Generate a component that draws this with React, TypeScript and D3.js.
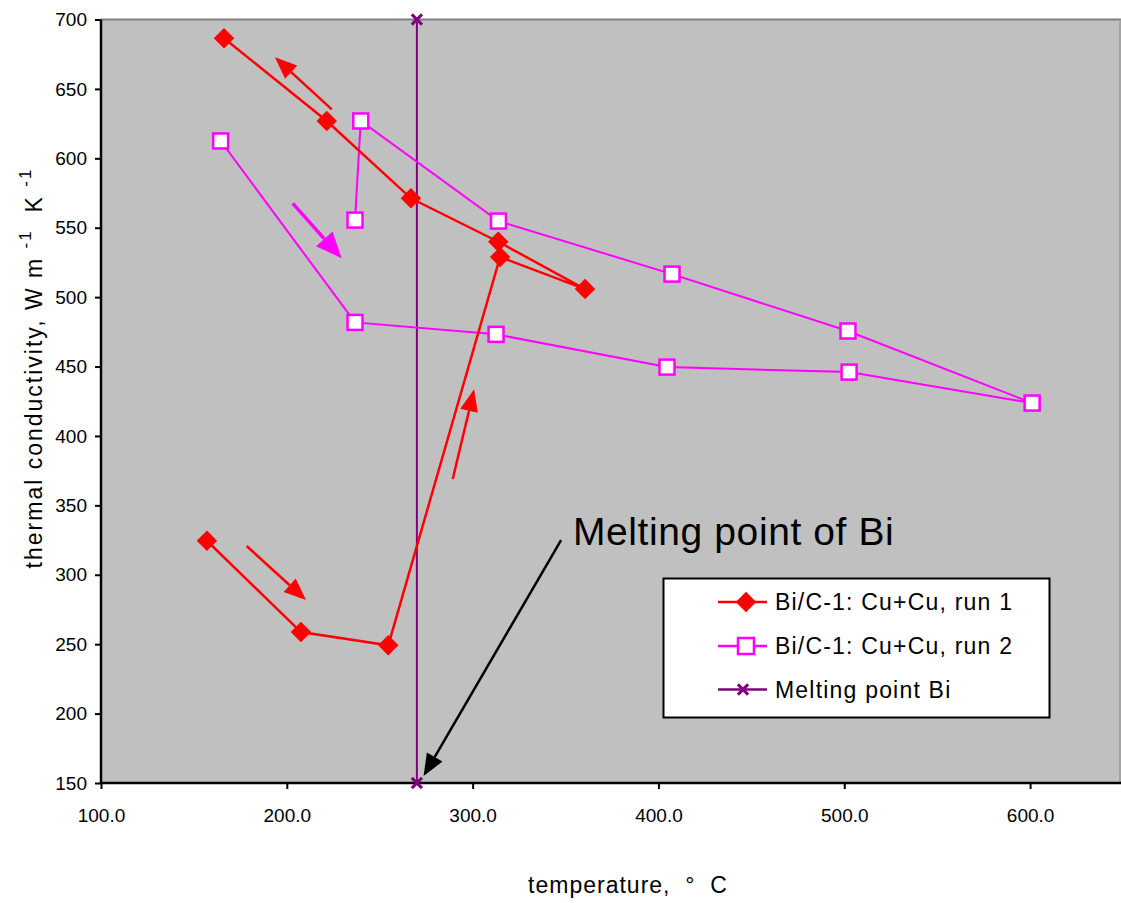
import { useEffect, useRef } from "react";
import * as d3 from "d3";

// run 1 (heating then cooling)
const run1Temp = [157.0, 207.6, 254.6, 314.8, 360.5, 313.8, 266.8, 221.5, 166.2];
const run1K = [324.5, 258.7, 249.2, 528.9, 505.8, 539.9, 571.2, 626.9, 686.5];

// run 2
const run2Temp = [164.4, 236.7, 312.6, 404.6, 502.6, 601.1, 502.0, 407.3, 313.9, 239.8, 236.7];
const run2K = [612.5, 481.8, 473.2, 449.6, 446.0, 423.7, 475.6, 516.6, 554.8, 626.9, 555.5];

// melting point of Bi
const meltTemp = [270, 270];
const meltK = [150, 700];

const xTicks = [100, 200, 300, 400, 500, 600];
const yTicks = [150, 200, 250, 300, 350, 400, 450, 500, 550, 600, 650, 700];

const legendLabels = ["Bi/C-1: Cu+Cu, run 1", "Bi/C-1: Cu+Cu, run 2", "Melting point Bi"];

// direction arrows drawn on the chart: tail and tip in data units
const arrowTails = [
  [224.2, 635.3],
  [203.2, 567.6],
  [178.4, 320.7],
  [289.3, 369.0],
  [347.6, 325.0],
];
const arrowTips = [
  [193.6, 672.8],
  [229.5, 528.0],
  [210.3, 281.8],
  [300.8, 433.6],
  [273.6, 155.0],
];
const arrowColors = ["#ff0000", "#ff00ff", "#ff0000", "#ff0000", "#000000"];

const FONT = "'Liberation Sans', Arial, sans-serif";

export default function App() {
  const svgRef = useRef<SVGSVGElement | null>(null);

  useEffect(() => {
    document.body.style.margin = "0";
    const width = 1121;
    const height = 903;
    const left = 101, right = 1123, top = 19.5, bottom = 783;

    const svg = d3.select(svgRef.current)
      .attr("width", width)
      .attr("height", height)
      .style("background", "#ffffff")
      .style("display", "block");
    svg.selectAll("*").remove();

    const x = d3.scaleLinear().domain([100, 650]).range([left, right]);
    const y = d3.scaleLinear().domain([150, 700]).range([bottom, top]);

    // plot area
    svg.append("rect")
      .attr("x", left).attr("y", top)
      .attr("width", right - left).attr("height", bottom - top)
      .attr("fill", "#c0c0c0");
    svg.append("line")
      .attr("x1", left).attr("x2", right).attr("y1", top).attr("y2", top)
      .attr("stroke", "#808080").attr("stroke-width", 2);
    svg.append("line")
      .attr("x1", 1120).attr("x2", 1120).attr("y1", top).attr("y2", bottom)
      .attr("stroke", "#9a9a9a").attr("stroke-width", 1.5);

    // axes
    const xAxis = svg.append("g")
      .attr("transform", `translate(0,${bottom})`)
      .call(d3.axisBottom(x).tickValues(xTicks).tickSize(6).tickPadding(20).tickFormat(d3.format(".1f")));
    const yAxis = svg.append("g")
      .attr("transform", `translate(${left},0)`)
      .call(d3.axisLeft(y).tickValues(yTicks).tickSize(6).tickPadding(8).tickFormat(d3.format("d")));
    [xAxis, yAxis].forEach((g) => {
      g.select(".domain").attr("stroke", "#000").attr("stroke-width", 2.5);
      g.selectAll(".tick line").attr("stroke", "#000").attr("stroke-width", 2);
      g.selectAll(".tick text").attr("font-family", FONT).attr("font-size", 19).attr("fill", "#000");
    });
    xAxis.select(".domain").attr("d", `M${left},0H${right}`);
    yAxis.select(".domain").attr("d", `M0,${top}V${bottom}`);

    // axis titles
    svg.append("text")
      .attr("x", 628).attr("y", 893)
      .attr("text-anchor", "middle")
      .attr("font-family", FONT).attr("font-size", 23)
      .attr("letter-spacing", 1)
      .style("white-space", "pre")
      .text("temperature,  \u00b0  C");
    const yl = svg.append("text")
      .attr("transform", "translate(42,368) rotate(-90)")
      .attr("text-anchor", "middle")
      .attr("font-family", FONT).attr("font-size", 23)
      .attr("letter-spacing", 2)
      .style("white-space", "pre");
    yl.append("tspan").text("thermal conductivity, W m ");
    yl.append("tspan").attr("dy", -11).attr("font-size", 17).text("-1");
    yl.append("tspan").attr("dy", 11).text("  K ");
    yl.append("tspan").attr("dy", -11).attr("font-size", 17).text("-1");

    // melting point line
    const meltPts = meltTemp.map((t, i) => [t, meltK[i]] as [number, number]);
    const line = d3.line<[number, number]>().x((d) => x(d[0])).y((d) => y(d[1]));
    svg.append("path").datum(meltPts)
      .attr("d", line).attr("fill", "none")
      .attr("stroke", "#800080").attr("stroke-width", 2);
    const xSym = d3.symbol(d3.symbolX, 70);
    svg.selectAll(".meltMark").data(meltPts).join("path")
      .attr("transform", (d) => `translate(${x(d[0])},${y(d[1])})`)
      .attr("d", xSym()).attr("fill", "none")
      .attr("stroke", "#800080").attr("stroke-width", 3);

    // run 2
    const run2Pts = run2Temp.map((t, i) => [t, run2K[i]] as [number, number]);
    svg.append("path").datum(run2Pts)
      .attr("d", line).attr("fill", "none")
      .attr("stroke", "#ff00ff").attr("stroke-width", 2);
    svg.selectAll(".r2").data(run2Pts).join("rect")
      .attr("x", (d) => x(d[0]) - 7.5).attr("y", (d) => y(d[1]) - 7.5)
      .attr("width", 15).attr("height", 15)
      .attr("fill", "#ffffff").attr("stroke", "#ff00ff").attr("stroke-width", 2.5);

    // run 1
    const run1Pts = run1Temp.map((t, i) => [t, run1K[i]] as [number, number]);
    svg.append("path").datum(run1Pts)
      .attr("d", line).attr("fill", "none")
      .attr("stroke", "#ff0000").attr("stroke-width", 2.5);
    const diamond = d3.symbol(d3.symbolSquare, 210);
    svg.selectAll(".r1").data(run1Pts).join("path")
      .attr("transform", (d) => `translate(${x(d[0])},${y(d[1])}) rotate(45)`)
      .attr("d", diamond()).attr("fill", "#ff0000");

    // arrows
    arrowTails.forEach((tail, i) => {
      const x1 = x(tail[0]), y1 = y(tail[1]);
      const x2 = x(arrowTips[i][0]), y2 = y(arrowTips[i][1]);
      const len = Math.hypot(x2 - x1, y2 - y1);
      const ux = (x2 - x1) / len, uy = (y2 - y1) / len;
      const headL = i === 1 ? 26 : 22, headW = i === 1 ? 11 : 9;
      const bx = x2 - ux * headL, by = y2 - uy * headL;
      const col = arrowColors[i];
      svg.append("line")
        .attr("x1", x1).attr("y1", y1).attr("x2", bx).attr("y2", by)
        .attr("stroke", col).attr("stroke-width", i === 1 ? 3.5 : 2.5);
      svg.append("path")
        .attr("d", `M${x2},${y2}L${bx - uy * headW},${by + ux * headW}L${bx + uy * headW},${by - ux * headW}Z`)
        .attr("fill", col);
    });

    // annotation
    svg.append("text")
      .attr("x", x(354)).attr("y", y(321.4))
      .attr("font-family", FONT).attr("font-size", 39)
      .attr("letter-spacing", 0.6)
      .text("Melting point of Bi");

    // legend
    const lg = svg.append("g");
    lg.append("rect")
      .attr("x", 663.5).attr("y", 578.5).attr("width", 386).attr("height", 139)
      .attr("fill", "#ffffff").attr("stroke", "#000").attr("stroke-width", 2);
    const rowY = [602, 646, 689.5];
    const rowCol = ["#ff0000", "#ff00ff", "#800080"];
    legendLabels.forEach((lab, i) => {
      const ry = rowY[i];
      lg.append("line")
        .attr("x1", 718).attr("x2", 767).attr("y1", ry).attr("y2", ry)
        .attr("stroke", rowCol[i]).attr("stroke-width", 2.5);
      if (i === 0) {
        lg.append("path").attr("transform", `translate(746,${ry}) rotate(45)`)
          .attr("d", diamond()).attr("fill", "#ff0000");
      } else if (i === 1) {
        lg.append("rect").attr("x", 746 - 8).attr("y", ry - 8).attr("width", 16).attr("height", 16)
          .attr("fill", "#ffffff").attr("stroke", "#ff00ff").attr("stroke-width", 2.5);
      } else {
        lg.append("path").attr("transform", `translate(743,${ry})`)
          .attr("d", xSym()).attr("fill", "none").attr("stroke", "#800080").attr("stroke-width", 3);
      }
      lg.append("text")
        .attr("x", 775).attr("y", ry + 8)
        .attr("font-family", FONT).attr("font-size", 23)
        .attr("letter-spacing", 1.2)
        .text(lab);
    });
  }, []);

  return <svg ref={svgRef}></svg>;
}
